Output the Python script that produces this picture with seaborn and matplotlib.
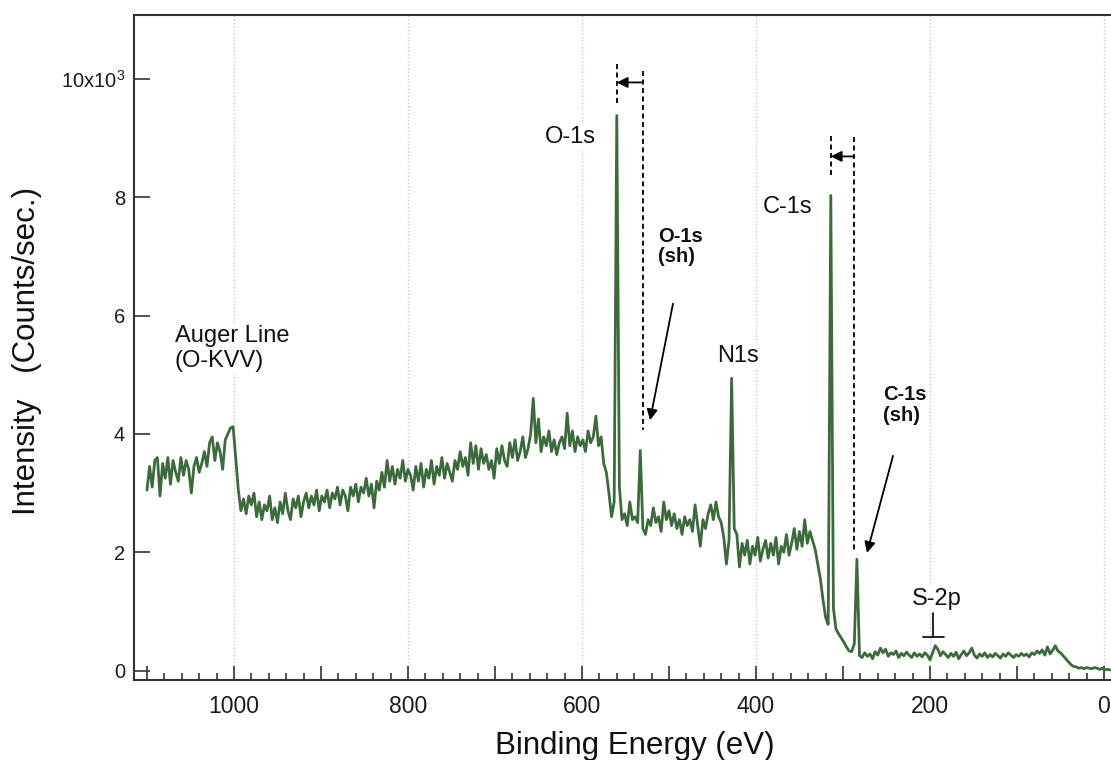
import numpy as np
import pandas as pd
import matplotlib
matplotlib.use("Agg")
import matplotlib.pyplot as plt
from matplotlib.ticker import MultipleLocator, FuncFormatter
import seaborn as sns

# ---------------- data (intensity in 10^3 counts/sec, sampled every 3 eV) ----------------
energy_step = 3.0

auger_start = 1100.0
auger_counts_k = [3.05, 3.45, 3.10, 3.55, 3.60, 2.95, 3.50, 3.25, 3.60, 3.15,
                  3.55, 3.35, 3.20, 3.60, 3.30, 3.55, 3.40, 3.00, 3.45, 3.60,
                  3.35, 3.50, 3.70, 3.45, 3.85, 3.95, 3.55, 3.85, 3.70, 3.40,
                  3.90, 4.00, 4.10, 4.12]

background_start = 998.0
background_counts_k = [3.60, 3.05, 2.70, 2.90, 2.65, 2.95, 2.80, 3.00, 2.60, 2.85,
                       2.55, 2.80, 2.70, 2.95, 2.55, 2.75, 2.50, 2.85, 2.65, 3.00,
                       2.70, 2.55, 2.90, 2.75, 2.95, 2.60, 2.85, 3.00, 2.75, 2.95,
                       2.80, 3.05, 2.70, 2.95, 2.85, 3.05, 2.75, 3.00, 2.90, 3.10,
                       2.80, 3.05, 2.95, 2.70, 3.10, 2.95, 3.15, 2.85, 3.10, 3.00,
                       3.25, 2.95, 3.15, 2.75, 3.20, 3.05, 3.35, 3.10, 3.55, 3.20,
                       3.45, 3.15, 3.40, 3.25, 3.55, 3.20, 3.40, 3.30, 3.05, 3.45,
                       3.20, 3.50, 3.10, 3.40, 3.25, 3.55, 3.15, 3.45, 3.30, 3.60,
                       3.25, 3.50, 3.35, 3.20, 3.55, 3.40, 3.70, 3.45, 3.60, 3.30,
                       3.85, 3.50, 3.80, 3.40, 3.75, 3.50, 3.65, 3.40, 3.55, 3.25,
                       3.75, 3.50, 3.80, 3.55, 3.45, 3.85, 3.60, 3.90, 3.55, 3.70,
                       3.95, 3.60, 3.75, 4.00, 4.60, 3.85, 4.25, 3.70, 3.95, 3.80,
                       4.05, 3.70, 3.90, 3.65, 3.85, 3.95, 3.75, 4.35, 3.80, 4.05,
                       3.70, 3.95, 3.80]

oxygen_start = 599.0
oxygen_counts_k = [3.90, 3.70, 4.05, 3.85, 3.95, 4.30, 3.80, 3.95, 3.50, 3.35,
                   3.00, 2.60, 2.85, 9.38, 3.10, 2.55, 2.65, 2.45, 2.85, 2.55,
                   2.60, 2.50, 3.72, 2.40, 2.30, 2.55, 2.45, 2.75, 2.50, 2.60,
                   2.35, 2.85, 2.55, 2.70, 2.45, 2.65, 2.40, 2.55, 2.30, 2.60,
                   2.45, 2.55, 2.35, 2.80, 2.45, 2.10, 2.55, 2.40, 2.65, 2.80,
                   2.55, 2.85, 2.60, 2.50, 2.25, 1.80, 2.20, 4.94, 2.40, 2.30,
                   1.75, 2.15]

carbon_start = 413.0
carbon_counts_k = [1.95, 2.20, 1.80, 2.10, 1.95, 2.25, 1.85, 2.05, 2.20, 1.90,
                   2.15, 1.95, 2.25, 1.80, 2.10, 2.00, 2.30, 1.95, 2.15, 2.40,
                   2.05, 2.35, 2.10, 2.55, 2.15, 2.35, 2.20, 2.05, 1.80, 1.55,
                   1.20, 0.90, 0.78, 8.03, 1.05, 0.70, 0.62, 0.55, 0.48, 0.40,
                   0.33, 0.32, 0.45, 1.88, 0.25]

tail_start = 278.0
tail_counts_k = [0.22, 0.30, 0.24, 0.28, 0.20, 0.32, 0.26, 0.38, 0.30, 0.36,
                 0.24, 0.30, 0.27, 0.33, 0.22, 0.29, 0.25, 0.31, 0.26, 0.22,
                 0.30, 0.24, 0.28, 0.23, 0.30, 0.26, 0.18, 0.30, 0.42, 0.36,
                 0.25, 0.32, 0.27, 0.22, 0.29, 0.24, 0.31, 0.20, 0.27, 0.33,
                 0.25, 0.30, 0.38, 0.26, 0.21, 0.28, 0.24, 0.30, 0.22, 0.27,
                 0.23, 0.29, 0.25, 0.21, 0.28, 0.24, 0.30, 0.26, 0.22, 0.27,
                 0.24, 0.29, 0.25, 0.28, 0.23, 0.30, 0.27, 0.33, 0.29, 0.35,
                 0.26, 0.40, 0.28, 0.34, 0.42, 0.33, 0.30, 0.25, 0.20, 0.15,
                 0.10, 0.07, 0.06, 0.04, 0.05, 0.03, 0.05, 0.04, 0.03, 0.05,
                 0.04, 0.02, 0.04, 0.01, 0.02, 0.01]

x_tick_values = [1000, 800, 600, 400, 200, 0]
y_tick_values = [0, 2, 4, 6, 8, 10]
y_tick_labels = ["0", "2", "4", "6", "8", "10x10$^{3}$"]

segments = [(auger_start, auger_counts_k), (background_start, background_counts_k),
            (oxygen_start, oxygen_counts_k), (carbon_start, carbon_counts_k),
            (tail_start, tail_counts_k)]
frames = []
for start, vals in segments:
    e = start - energy_step * np.arange(len(vals))
    frames.append(pd.DataFrame({"energy": e, "counts": vals}))
df = pd.concat(frames, ignore_index=True)

# ---------------- style ----------------
sns.set_theme(style="white")
plt.rcParams["font.family"] = ["Liberation Sans", "DejaVu Sans"]
plt.rcParams["mathtext.fontset"] = "custom"
plt.rcParams["mathtext.rm"] = "Liberation Sans"
plt.rcParams["mathtext.it"] = "Liberation Sans"

W, H = 1111, 760
fig = plt.figure(figsize=(W / 100, H / 100), dpi=100)
ax_l, ax_r, ax_t, ax_b = 134, 1114, 15, 680
ax = fig.add_axes([ax_l / W, 1 - ax_b / H, (ax_r - ax_l) / W, (ax_b - ax_t) / H])

green = "#3b6b3b"
sns.lineplot(data=df, x="energy", y="counts", ax=ax, color=green, linewidth=2.0,
             sort=False, estimator=None, zorder=3)

# axis ranges (px calibration: 0.87 px/eV, 59.15 px per 1k)
ax.set_xlim(1114.9, -11.5)
ax.set_ylim(-0.16, 11.08)

for xv in x_tick_values:
    ax.axvline(xv, color="#c4c4f2", linestyle=(0, (1, 1.5)), linewidth=1.0, zorder=0.5)

spine_c = "#333333"
for s in ["left", "bottom", "top"]:
    ax.spines[s].set_color(spine_c)
    ax.spines[s].set_linewidth(1.5)
ax.spines["right"].set_visible(False)

ax.xaxis.set_major_locator(MultipleLocator(100))
ax.xaxis.set_minor_locator(MultipleLocator(20))
ax.xaxis.set_major_formatter(FuncFormatter(lambda v, p: f"{int(round(v))}" if round(v) % 200 == 0 else ""))
ax.set_yticks(y_tick_values)
ax.set_yticklabels(y_tick_labels)

ax.tick_params(axis="x", which="major", direction="in", length=10, width=1.2, color=spine_c,
               labelsize=16.5, pad=11, labelcolor="#1a1a1a", bottom=True, top=False)
ax.tick_params(axis="x", which="minor", direction="in", length=5, width=1.2, color=spine_c,
               bottom=True, top=False)
ax.tick_params(axis="y", which="major", direction="in", length=11.5, width=1.2, color=spine_c,
               labelsize=14.5, pad=6.5, labelcolor="#1a1a1a", left=True, right=False)

ax.set_xlabel("Binding Energy (eV)", fontsize=22.5, color="#111111")
ax.xaxis.set_label_coords(0.511, -0.0767)
ax.set_ylabel("Intensity   (Counts/sec.)", fontsize=22.5, color="#111111")
ax.yaxis.set_label_coords(-0.0934, 0.4947)

# ---------------- annotations ----------------
box = dict(facecolor="white", edgecolor="none", pad=1.5)
txt_kw = dict(fontsize=17, color="#111111", ha="left", va="baseline", zorder=2, bbox=box)
bold_kw = dict(fontsize=14.5, fontweight="bold", color="#111111", ha="left", va="baseline",
               zorder=2, bbox=box, linespacing=1.1)

ax.text(1067.8, 5.13, "Auger Line\n(O-KVV)", linespacing=1.15, **txt_kw)
ax.text(642.5, 8.92, "O-1s", **txt_kw)
ax.text(444.8, 5.22, "N1s", **txt_kw)
ax.text(392.0, 7.73, "C-1s", **txt_kw)
ax.text(220.7, 1.11, "S-2p", **txt_kw)
ax.text(512.6, 6.90, "O-1s\n(sh)", **bold_kw)
ax.text(254.0, 4.22, "C-1s\n(sh)", **bold_kw)

dash = (0, (2.8, 1.9))
ax.plot([560, 560], [10.26, 9.60], color="black", lw=1.3, ls=dash, zorder=4)
ax.plot([530, 530], [10.14, 4.06], color="black", lw=1.3, ls=dash, zorder=4)
ax.plot([314, 314], [9.04, 8.33], color="black", lw=1.3, ls=dash, zorder=4)
ax.plot([287, 287], [9.01, 2.03], color="black", lw=1.3, ls=dash, zorder=4)

arrow = dict(arrowstyle="-|>", color="black", lw=1.3, mutation_scale=16, shrinkA=0, shrinkB=0)
ax.annotate("", xy=(560, 9.94), xytext=(530, 9.94), arrowprops=arrow, zorder=4)
ax.annotate("", xy=(314, 8.69), xytext=(287, 8.69), arrowprops=arrow, zorder=4)
ax.annotate("", xy=(521.8, 4.23), xytext=(495.4, 6.20), arrowprops=arrow, zorder=4)
ax.annotate("", xy=(272.4, 1.99), xytext=(242.5, 3.63), arrowprops=arrow, zorder=4)

# S-2p marker
ax.plot([196.6, 196.6], [0.98, 0.56], color="black", lw=1.2, zorder=4)
ax.plot([208.0, 184.0], [0.56, 0.56], color="black", lw=1.2, zorder=4)

fig.savefig("out.png", dpi=100)
